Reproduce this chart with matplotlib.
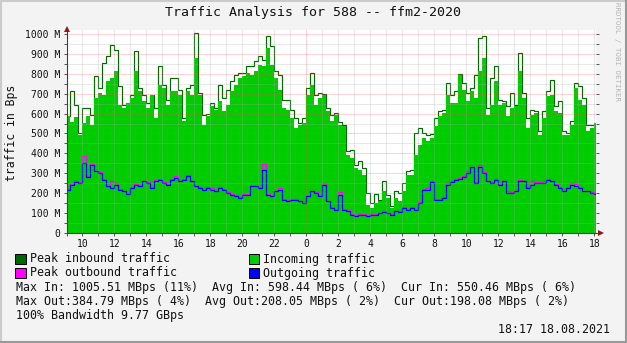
import numpy as np
import matplotlib
matplotlib.use("Agg")
import matplotlib.pyplot as plt
from matplotlib.patches import Rectangle
from matplotlib.lines import Line2D

# ---- data: 15-minute samples starting 09:00 (MBps) ----
start_hour = 9.0
step_hours = 0.25
end_hour = 42.1

in_avg = [586, 560, 581, 494, 553, 586, 544, 678, 703, 695,
          762, 779, 812, 645, 628, 653, 678, 812, 712, 662,
          628, 695, 578, 745, 729, 645, 712, 712, 695, 561,
          712, 695, 880, 695, 544, 586, 636, 620, 662, 611,
          645, 712, 745, 779, 787, 804, 796, 812, 846, 837,
          930, 846, 779, 720, 628, 620, 578, 528, 544, 553,
          695, 745, 645, 678, 695, 611, 561, 595, 544, 536,
          394, 377, 327, 318, 293, 142, 126, 151, 159, 209,
          176, 126, 176, 159, 209, 293, 293, 394, 444, 477,
          461, 477, 536, 586, 603, 695, 653, 653, 796, 720,
          662, 712, 678, 812, 880, 595, 645, 762, 645, 653,
          586, 628, 636, 812, 678, 528, 595, 603, 494, 578,
          687, 695, 611, 603, 494, 494, 544, 729, 670, 645,
          511, 528, 550.46]

in_peak = [586, 711, 645, 503, 628, 628, 591, 787, 729, 854,
           888, 946, 921, 737, 645, 653, 695, 913, 729, 695,
           653, 695, 628, 837, 745, 670, 779, 779, 720, 578,
           729, 745, 1005.51, 705, 595, 600, 653, 628, 742, 678,
           720, 762, 796, 804, 804, 837, 837, 863, 888, 871,
           988, 938, 812, 796, 670, 670, 620, 578, 553, 578,
           729, 804, 695, 703, 700, 628, 595, 603, 560, 545,
           410, 419, 343, 360, 327, 201, 151, 196, 168, 260,
           193, 134, 209, 201, 251, 310, 318, 503, 528, 503,
           494, 497, 578, 611, 620, 754, 695, 712, 800, 754,
           703, 729, 796, 980, 988, 628, 779, 837, 670, 662,
           636, 703, 645, 905, 703, 578, 620, 611, 511, 611,
           712, 770, 636, 662, 511, 500, 561, 754, 737, 678,
           544, 544, 555]

out_avg = [218, 243, 256, 251, 352, 280, 343, 310, 301, 268,
           234, 226, 243, 218, 209, 198, 226, 243, 234, 260,
           251, 226, 260, 268, 251, 243, 268, 276, 260, 268,
           285, 260, 234, 226, 218, 226, 218, 209, 226, 218,
           201, 193, 184, 176, 193, 193, 234, 234, 226, 318,
           193, 184, 209, 218, 168, 159, 168, 168, 159, 151,
           184, 209, 201, 184, 240, 159, 126, 117, 193, 117,
           112, 92, 84, 92, 92, 84, 92, 92, 100, 106,
           100, 92, 109, 106, 126, 117, 126, 117, 150, 216,
           216, 256, 166, 166, 176, 240, 256, 265, 270, 281,
           300, 330, 250, 330, 301, 260, 251, 268, 243, 260,
           201, 201, 209, 260, 260, 226, 243, 251, 251, 251,
           268, 260, 243, 226, 209, 226, 243, 234, 226, 209,
           209, 201, 198.08]

out_peak = [222, 246, 260, 254, 384.79, 284, 348, 314, 304, 271,
            237, 260, 250, 221, 212, 201, 229, 246, 237, 263,
            254, 229, 266, 271, 254, 246, 271, 285, 263, 271,
            291, 263, 237, 229, 221, 229, 226, 212, 233, 221,
            204, 196, 190, 179, 196, 196, 237, 237, 229, 347,
            196, 187, 212, 226, 171, 165, 171, 171, 162, 160,
            187, 212, 204, 187, 252, 162, 129, 120, 206, 120,
            115, 95, 87, 95, 95, 87, 95, 95, 103, 109,
            103, 95, 112, 109, 129, 120, 129, 120, 156, 222,
            226, 262, 169, 169, 179, 250, 260, 270, 276, 285,
            312, 334, 256, 340, 304, 263, 254, 272, 246, 263,
            210, 204, 212, 268, 263, 229, 260, 254, 254, 262,
            271, 263, 246, 229, 212, 229, 250, 245, 229, 212,
            212, 204, 201]

hour_ticks = list(range(10, 43, 2))
y_ticks = list(range(0, 1001, 100))

title = "Traffic Analysis for 588 -- ffm2-2020"
legend_items = [("Peak inbound traffic", "#006600"),
                ("Incoming traffic", "#00CC00"),
                ("Peak outbound traffic", "#FF00FF"),
                ("Outgoing traffic", "#0000FF")]
stats_lines = [
    "Max In: 1005.51 MBps (11%)  Avg In: 598.44 MBps ( 6%)  Cur In: 550.46 MBps ( 6%)",
    "Max Out:384.79 MBps ( 4%)  Avg Out:208.05 MBps ( 2%)  Cur Out:198.08 MBps ( 2%)",
    "100% Bandwidth 9.77 GBps",
]
timestamp = "18:17 18.08.2021"

# ---- figure ----
W, H = 627, 343
MONO = "DejaVu Sans Mono"
plt.rcParams["font.family"] = MONO
plt.rcParams["lines.scale_dashes"] = False

fig = plt.figure(figsize=(W / 100, H / 100), dpi=100, facecolor="#F3F3F3")


def fx(px):
    return px / W


def fy(py):
    return 1 - py / H


left_px, right_px, top_px, bottom_px = 66.5, 596, 30, 233
ax = fig.add_axes([fx(left_px), fy(bottom_px), fx(right_px - left_px),
                   (bottom_px - top_px) / H])
ax.set_facecolor("white")

edges = start_hour + step_hours * np.arange(len(in_avg) + 1)

ax.stairs(in_peak, edges, baseline=None, color="#006600", lw=0.85, zorder=2)
ax.stairs(in_avg, edges, baseline=0, fill=True, color="#00CC00", lw=0, zorder=3)
ax.stairs(out_peak, edges, baseline=None, color="#FF00FF", lw=0.85, zorder=4)
ax.stairs(out_avg, edges, baseline=None, color="#0000FF", lw=0.85, zorder=5)

ax.set_xlim(start_hour, end_hour)
ax.set_ylim(0, 1020)

# grid on top of the data
minor_kw = dict(color="#A8A8A8", alpha=0.55, lw=0.72, dashes=(0.72, 0.72), zorder=6)
major_kw = dict(color="#FF5050", alpha=0.5, lw=0.72, dashes=(0.72, 0.72), zorder=7)
for h in range(10, 43):
    if h == 24:
        ax.axvline(h, **major_kw)
    else:
        ax.axvline(h, **minor_kw)
for v in range(50, 1001, 50):
    if v % 100 == 0:
        ax.axhline(v, **major_kw)
    else:
        ax.axhline(v, **minor_kw)

# axes frame
for s in ["top", "right"]:
    ax.spines[s].set_visible(False)
for s in ["left", "bottom"]:
    ax.spines[s].set_color("#404040")
    ax.spines[s].set_linewidth(0.8)
    ax.spines[s].set_zorder(8)

ax.set_xticks(hour_ticks)
ax.set_xticklabels([str(h % 24) for h in hour_ticks])
ax.set_xticks(range(9, 43), minor=True)
ax.set_yticks(y_ticks)
ax.set_yticklabels(["0" if v == 0 else f"{v} M" for v in y_ticks])
ax.set_yticks(range(0, 1001, 50), minor=True)
ax.tick_params(axis="both", which="both", colors="#555555", width=0.7,
               labelcolor="#111111", labelsize=7)
ax.tick_params(axis="x", which="both", length=2.2, pad=2.2)
ax.tick_params(axis="y", which="both", length=2.0, pad=2.5, right=True)

# arrows at the axis ends
ax.plot([1.0, 1.0 + 4 / 529], [0, 0], transform=ax.transAxes, color="#404040",
        lw=0.8, clip_on=False, zorder=9)
ax.plot([1.0 + 5 / 529], [0], transform=ax.transAxes, marker=">", ms=4.5,
        color="#8B1A1A", clip_on=False, zorder=9, mew=0)
ax.plot([0], [1.0 + 1.5 / 203], transform=ax.transAxes, marker="^", ms=4.5,
        color="#8B1A1A", clip_on=False, zorder=9, mew=0)

# texts
fig.text(fx(313), fy(12.5), title, ha="center", va="center", fontsize=9.5,
         color="#111111")
fig.text(fx(11.5), fy(133), "traffic in Bps", rotation=90, ha="center",
         va="center", fontsize=8.3, color="#111111")
fig.text(fx(617), fy(52), "RRDTOOL / TOBI OETIKER", rotation=270, ha="center",
         va="center", fontsize=5.3, color="#B4B4B4")

legend_pos = [(15.5, 259), (248.5, 259), (15.5, 273), (248.5, 273)]
for (label, col), (x0, yc) in zip(legend_items, legend_pos):
    fig.add_artist(Rectangle((fx(x0), fy(yc + 5)), 10 / W, 10 / H,
                             transform=fig.transFigure, facecolor=col,
                             edgecolor="black", lw=0.7))
    fig.text(fx(x0 + 14.5), fy(yc), label, ha="left", va="center",
             fontsize=8.4, color="#111111")

for line, yc in zip(stats_lines, [287, 301, 315]):
    fig.text(fx(16), fy(yc), line, ha="left", va="center", fontsize=8.4,
             color="#111111")
fig.text(fx(610), fy(329.5), timestamp, ha="right", va="center", fontsize=8.4,
         color="#111111")

# image border shading
border = [((0.5, 0.5), (0, H), "#CBCBCB"),
          ((0, W), (H - 0.5, H - 0.5), "#CBCBCB"),
          ((0, W), (1.0, 1.0), "#999999"),
          ((W - 1.0, W - 1.0), (0, H), "#999999")]
for xs, ys, col in border:
    fig.add_artist(Line2D([x / W for x in xs], [y / H for y in ys],
                          transform=fig.transFigure, color=col, lw=1.5))

fig.savefig("out.png", dpi=100, facecolor=fig.get_facecolor())
